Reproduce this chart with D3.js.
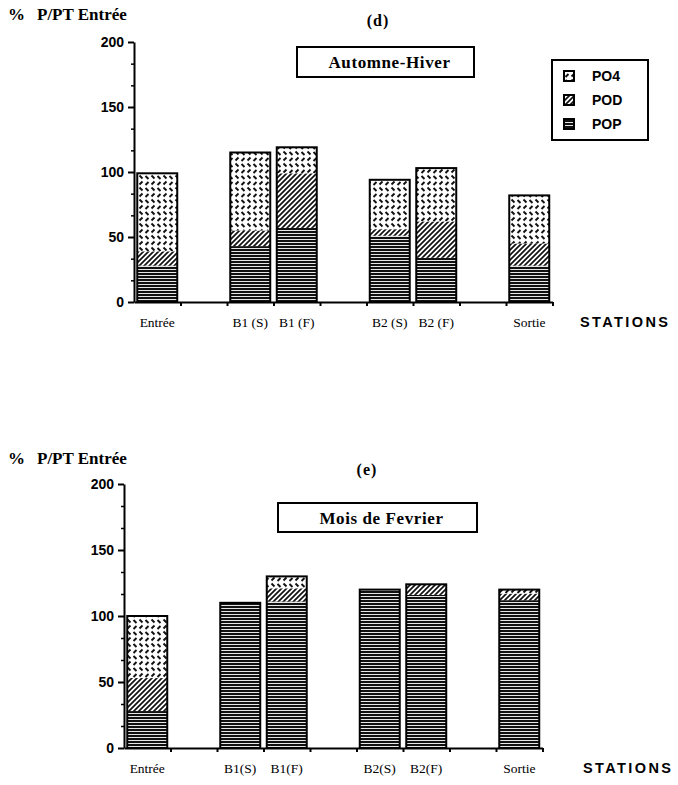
<!DOCTYPE html>
<html lang="fr">
  <head>
    <meta charset="UTF-8" />
    <title>% P/PT Entrée - stations</title>
    <script src="https://d3js.org/d3.v7.min.js"></script>
    <style>
      body {
        margin: 0;
        background: white;
      }
      .serif {
        font-family: "Liberation Serif", "Times New Roman", serif;
        font-weight: bold;
      }
      .sans {
        font-family: "Liberation Sans", Arial, sans-serif;
        font-weight: bold;
      }
      .xlab {
        font-family: "Liberation Serif", "Times New Roman", serif;
        font-size: 13.5px;
      }
    </style>
  </head>
  <body>
    <div id="chart"></div>
    <script>
      // stations and where they sit on the 9-slot axis
      const stationsD = ["Entrée", "B1 (S)", "B1 (F)", "B2 (S)", "B2 (F)", "Sortie"];
      const stationsE = ["Entrée", "B1(S)", "B1(F)", "B2(S)", "B2(F)", "Sortie"];
      const slotIndex = [0, 2, 3, 5, 6, 8];
      const nSlots = 9;

      const series = ["POP", "POD", "PO4"];

      // (d) Automne-Hiver
      const popD = [28, 43, 57, 51, 34, 28];
      const podD = [11, 12, 42, 5, 28, 17];
      const po4D = [60, 60, 20, 38, 41, 37];

      // (e) Mois de Fevrier
      const popE = [28, 110, 111, 120, 116, 112];
      const podE = [25, 0, 10, 0, 8, 5];
      const po4E = [47, 0, 9, 0, 0, 3];

      const yTicks = [0, 50, 100, 150, 200];

      const W = 678,
        H = 785;

      const svg = d3
        .select("#chart")
        .append("svg")
        .attr("width", W)
        .attr("height", H);

      // fill patterns imitating the old print hatching
      const defs = svg.append("defs");

      const pPop = defs
        .append("pattern")
        .attr("id", "pat-POP")
        .attr("patternUnits", "userSpaceOnUse")
        .attr("width", 6)
        .attr("height", 3);
      pPop.append("rect").attr("width", 6).attr("height", 3).attr("fill", "#fff");
      pPop.append("rect").attr("width", 6).attr("height", 2.1).attr("fill", "#111");

      const pPod = defs
        .append("pattern")
        .attr("id", "pat-POD")
        .attr("patternUnits", "userSpaceOnUse")
        .attr("width", 5)
        .attr("height", 5);
      pPod.append("rect").attr("width", 5).attr("height", 5).attr("fill", "#fff");
      pPod
        .append("path")
        .attr("d", "M-1,6 L6,-1 M-2,2 L2,-2 M3,7 L7,3")
        .attr("stroke", "#111")
        .attr("stroke-width", 1.7);

      const pPo4 = defs
        .append("pattern")
        .attr("id", "pat-PO4")
        .attr("patternUnits", "userSpaceOnUse")
        .attr("width", 12)
        .attr("height", 12);
      pPo4.append("rect").attr("width", 12).attr("height", 12).attr("fill", "#fff");
      pPo4
        .append("path")
        .attr("d", "M1.5,5 L4.5,2 M7.5,7.5 L10.5,10.5 M7.5,4.5 L10.5,1.5 M1.5,8 L4.5,11")
        .attr("stroke", "#111")
        .attr("stroke-width", 1.9);

      const fillFor = (key) => `url(#pat-${key})`;

      function drawPanel(opt) {
        const g = svg.append("g");

        const y = d3
          .scaleLinear()
          .domain([0, 200])
          .range([opt.y0, opt.y200]);

        const x = d3
          .scaleBand()
          .domain(d3.range(nSlots))
          .range([opt.left, opt.left + opt.step * nSlots])
          .paddingInner(0.14)
          .paddingOuter(0.07);

        const xTick = d3
          .scaleLinear()
          .domain([0, nSlots])
          .range([opt.left, opt.left + opt.step * nSlots]);

        const rows = opt.labels.map((s, i) => ({
          station: s,
          slot: slotIndex[i],
          POP: opt.pop[i],
          POD: opt.pod[i],
          PO4: opt.po4[i],
        }));

        const stacked = d3.stack().keys(series)(rows);

        g.selectAll("g.layer")
          .data(stacked)
          .join("g")
          .attr("class", "layer")
          .attr("fill", (d) => fillFor(d.key))
          .selectAll("rect")
          .data((d) => d.filter((v) => v[1] - v[0] > 0))
          .join("rect")
          .attr("x", (d) => x(d.data.slot))
          .attr("width", x.bandwidth())
          .attr("y", (d) => y(d[1]))
          .attr("height", (d) => y(d[0]) - y(d[1]));

        // bar outlines
        g.selectAll("rect.outline")
          .data(rows)
          .join("rect")
          .attr("class", "outline")
          .attr("x", (d) => x(d.slot))
          .attr("width", x.bandwidth())
          .attr("y", (d) => y(d.POP + d.POD + d.PO4))
          .attr("height", (d) => y(0) - y(d.POP + d.POD + d.PO4))
          .attr("fill", "none")
          .attr("stroke", "#000")
          .attr("stroke-width", 2);

        // minor y ticks
        const minor = d3.range(0, 201, 50 / 3).filter((v) => Math.abs(v % 50) > 1 && Math.abs((v % 50) - 50) > 1);
        g.append("g")
          .attr("transform", `translate(${opt.left},0)`)
          .call(d3.axisLeft(y).tickValues(minor).tickSize(3).tickFormat(""))
          .call((a) => a.select(".domain").remove())
          .call((a) => a.selectAll("line").attr("stroke-width", 1.5));

        // y axis
        g.append("g")
          .attr("transform", `translate(${opt.left},0)`)
          .call(d3.axisLeft(y).tickValues(yTicks).tickSize(6).tickSizeOuter(0).tickPadding(4))
          .call((a) => a.selectAll("text").attr("class", "sans").style("font-size", "14px"))
          .call((a) => a.selectAll("path,line").attr("stroke-width", 2));

        // x axis with ticks on slot borders
        g.append("g")
          .attr("transform", `translate(0,${opt.y0})`)
          .call(d3.axisBottom(xTick).tickValues(d3.range(1, nSlots + 1)).tickSize(4).tickSizeOuter(0).tickFormat(""))
          .call((a) => a.selectAll("path,line").attr("stroke-width", 2));

        // station names
        g.selectAll("text.xlab")
          .data(rows)
          .join("text")
          .attr("class", "xlab")
          .attr("x", (d) => x(d.slot) + x.bandwidth() / 2)
          .attr("y", opt.y0 + 25)
          .attr("text-anchor", "middle")
          .text((d) => d.station);

        g.append("text")
          .attr("class", "sans")
          .attr("x", opt.stationsX)
          .attr("y", opt.y0 + 25)
          .style("font-size", "14.5px")
          .style("letter-spacing", "2.4px")
          .text("STATIONS");

        // y title
        g.append("text")
          .attr("class", "serif")
          .attr("x", 8)
          .attr("y", opt.titleY)
          .style("font-size", "17px")
          .text("%");
        g.append("text")
          .attr("class", "serif")
          .attr("x", 37)
          .attr("y", opt.titleY)
          .style("font-size", "17px")
          .text("P/PT Entrée");

        // panel letter
        g.append("text")
          .attr("class", "serif")
          .attr("x", opt.letterX)
          .attr("y", opt.letterY)
          .attr("text-anchor", "middle")
          .style("font-size", "16px")
          .style("letter-spacing", "1px")
          .text(opt.letter);

        // boxed period label
        const b = opt.box;
        g.append("rect")
          .attr("x", b[0])
          .attr("y", b[1])
          .attr("width", b[2])
          .attr("height", b[3])
          .attr("fill", "#fff")
          .attr("stroke", "#000")
          .attr("stroke-width", 2);
        g.append("text")
          .attr("class", "serif")
          .attr("x", b[0] + b[2] / 2 + 4)
          .attr("y", b[1] + b[3] / 2 + 6)
          .attr("text-anchor", "middle")
          .style("font-size", "17px")
          .style("letter-spacing", "0.6px")
          .text(opt.period);

        return g;
      }

      drawPanel({
        left: 134,
        step: 46.5,
        y0: 302,
        y200: 42,
        labels: stationsD,
        pop: popD,
        pod: podD,
        po4: po4D,
        titleY: 20,
        letter: "(d)",
        letterX: 378,
        letterY: 26,
        box: [297, 47, 177, 30],
        period: "Automne-Hiver",
        stationsX: 580,
      });

      drawPanel({
        left: 124,
        step: 46.5,
        y0: 748,
        y200: 484,
        labels: stationsE,
        pop: popE,
        pod: podE,
        po4: po4E,
        titleY: 464,
        letter: "(e)",
        letterX: 367,
        letterY: 475,
        box: [278, 503, 199, 29],
        period: "Mois de Fevrier",
        stationsX: 583,
      });

      // legend (top panel)
      const lg = svg.append("g");
      lg.append("rect")
        .attr("x", 552)
        .attr("y", 60)
        .attr("width", 96)
        .attr("height", 80)
        .attr("fill", "#fff")
        .attr("stroke", "#000")
        .attr("stroke-width", 2);
      const legendKeys = ["PO4", "POD", "POP"];
      const ly = d3.scaleBand().domain(legendKeys).range([64, 136]);
      legendKeys.forEach((k) => {
        lg.append("rect")
          .attr("x", 564)
          .attr("y", ly(k) + ly.bandwidth() / 2 - 5)
          .attr("width", 10)
          .attr("height", 10)
          .attr("fill", fillFor(k))
          .attr("stroke", "#000")
          .attr("stroke-width", 2);
        lg.append("text")
          .attr("class", "sans")
          .attr("x", 592)
          .attr("y", ly(k) + ly.bandwidth() / 2 + 5)
          .style("font-size", "14px")
          .text(k);
      });
    </script>
  </body>
</html>
